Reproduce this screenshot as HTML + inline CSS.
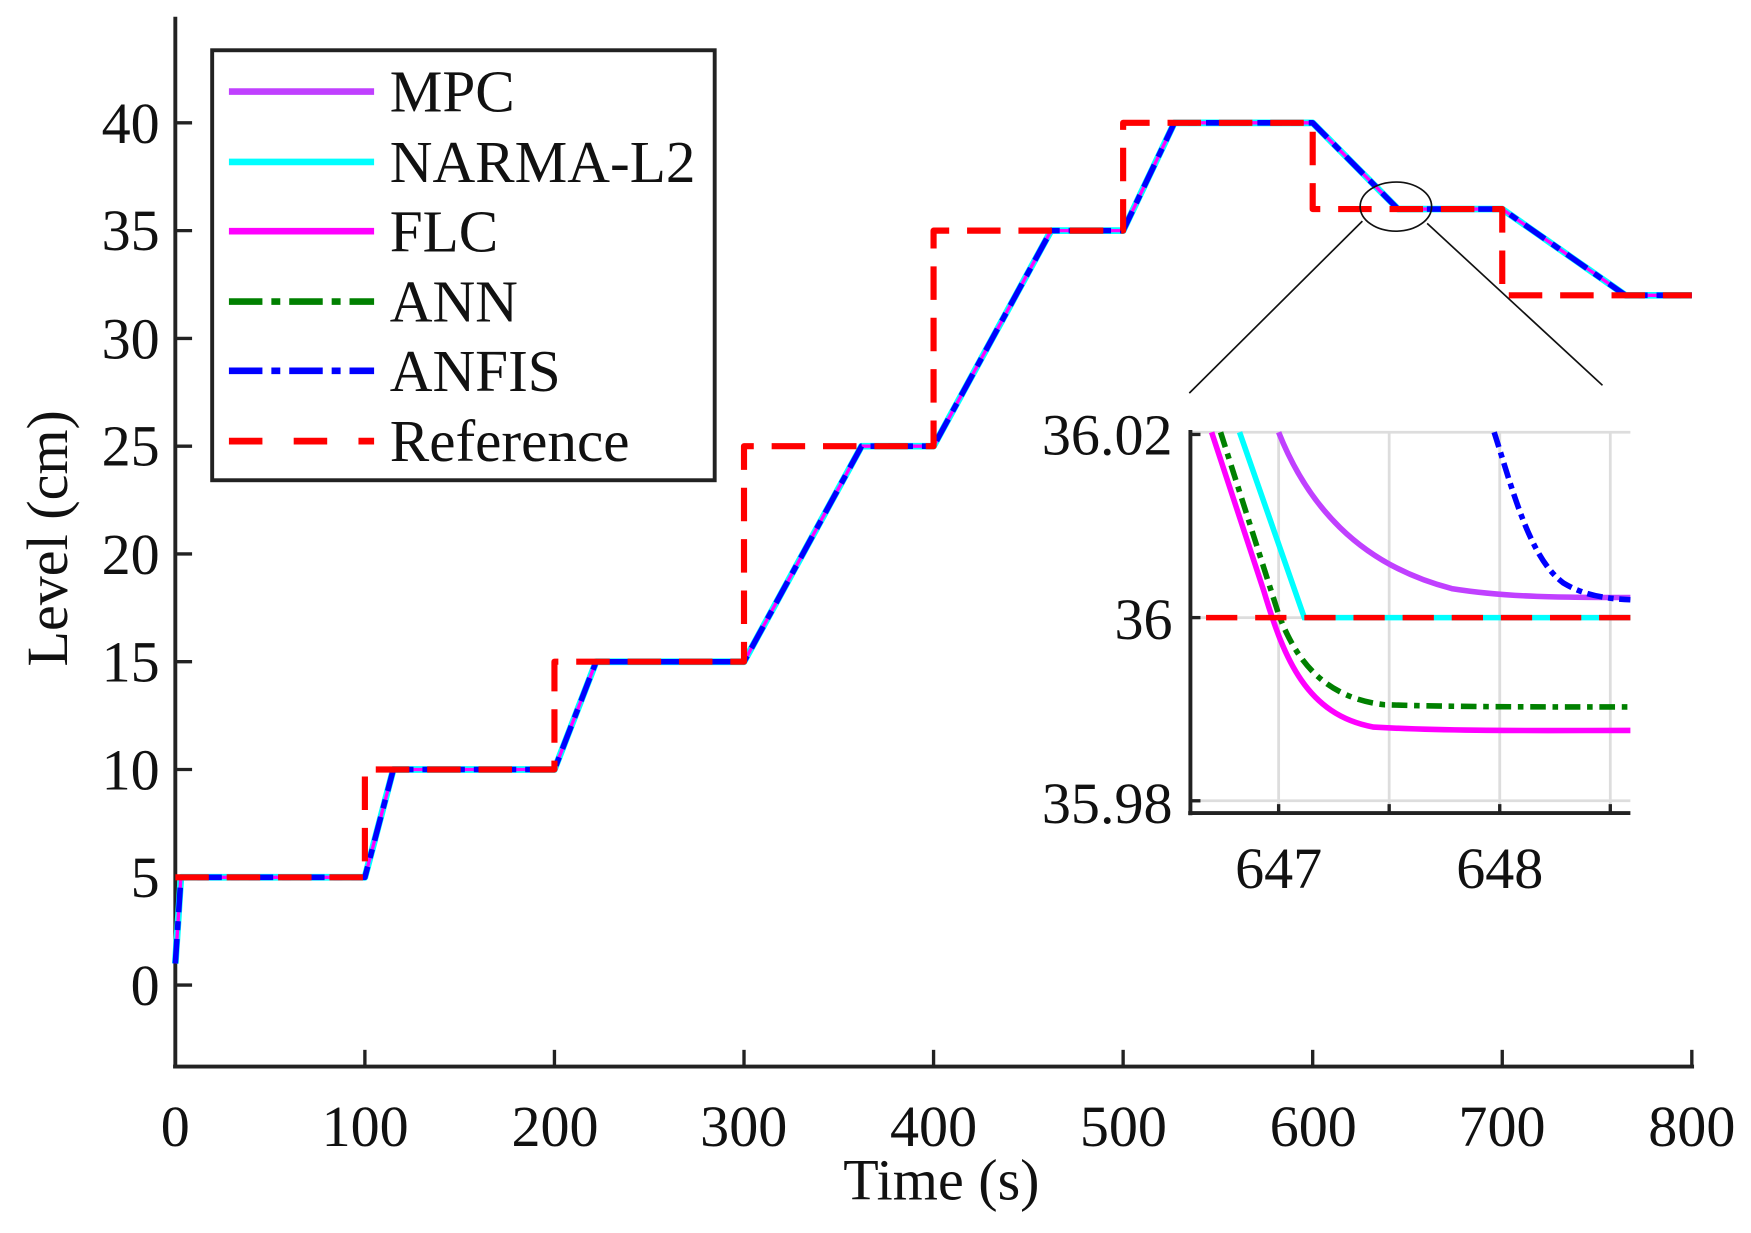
<!DOCTYPE html>
<html><head><meta charset="utf-8"><style>
html,body{margin:0;padding:0;background:#fff;}
svg{display:block;}
text{font-family:"Liberation Serif",serif;fill:#111;}
</style></head><body>
<svg width="1751" height="1233" viewBox="0 0 1568 1104" preserveAspectRatio="none" xmlns="http://www.w3.org/2000/svg">
<rect width="1568" height="1104" fill="#fff"/>
<g stroke="#222" stroke-width="3.5" fill="none">
<line x1="157" y1="15" x2="157" y2="956"/>
<line x1="155" y1="955" x2="1517" y2="955"/>
</g>
<g stroke="#222" stroke-width="3">
<line x1="326.75" y1="955" x2="326.75" y2="940"/><line x1="496.5" y1="955" x2="496.5" y2="940"/>
<line x1="666.25" y1="955" x2="666.25" y2="940"/><line x1="836" y1="955" x2="836" y2="940"/>
<line x1="1005.75" y1="955" x2="1005.75" y2="940"/><line x1="1175.5" y1="955" x2="1175.5" y2="940"/>
<line x1="1345.25" y1="955" x2="1345.25" y2="940"/><line x1="1515" y1="955" x2="1515" y2="940"/>
<line x1="157" y1="882" x2="172" y2="882"/><line x1="157" y1="785.5" x2="172" y2="785.5"/>
<line x1="157" y1="689" x2="172" y2="689"/><line x1="157" y1="592.5" x2="172" y2="592.5"/>
<line x1="157" y1="496" x2="172" y2="496"/><line x1="157" y1="399.5" x2="172" y2="399.5"/>
<line x1="157" y1="303" x2="172" y2="303"/><line x1="157" y1="206.5" x2="172" y2="206.5"/>
<line x1="157" y1="110" x2="172" y2="110"/>
</g>
<g font-size="52" text-anchor="end">
<text x="143" y="900">0</text><text x="143" y="803">5</text><text x="143" y="707">10</text>
<text x="143" y="610">15</text><text x="143" y="514">20</text><text x="143" y="417">25</text>
<text x="143" y="321">30</text><text x="143" y="224">35</text><text x="143" y="128">40</text>
</g>
<g font-size="52" text-anchor="middle">
<text x="157" y="1026">0</text><text x="327" y="1026">100</text><text x="497" y="1026">200</text>
<text x="666" y="1026">300</text><text x="836" y="1026">400</text><text x="1006" y="1026">500</text>
<text x="1176" y="1026">600</text><text x="1345" y="1026">700</text><text x="1515" y="1026">800</text>
<text x="843" y="1074">Time (s)</text>
<text transform="translate(60,482) rotate(-90)" x="0" y="0">Level (cm)</text>
</g>
<g fill="none" stroke-linejoin="round">
<path d="M157 862.7 L162 785.5 L326.75 785.5 L352.2 689 L496.5 689 L533.8 592.5 L666.25 592.5 L771.5 399.5 L836 399.5 L941.2 206.5 L1005.75 206.5 L1051.6 110 L1175.5 110 L1251.9 187.2 L1345.25 187.2 L1455.6 264.4 L1515 264.4" stroke="#00ffff" stroke-width="6"/>
<path d="M157 862.7 L162 785.5 L326.75 785.5 L352.2 689 L496.5 689 L533.8 592.5 L666.25 592.5 L771.5 399.5 L836 399.5 L941.2 206.5 L1005.75 206.5 L1051.6 110 L1175.5 110 L1251.9 187.2 L1345.25 187.2 L1455.6 264.4 L1515 264.4" stroke="#ff00ff" stroke-width="3"/>
<path d="M157 862.7 L162 785.5 L326.75 785.5 L352.2 689 L496.5 689 L533.8 592.5 L666.25 592.5 L771.5 399.5 L836 399.5 L941.2 206.5 L1005.75 206.5 L1051.6 110 L1175.5 110 L1251.9 187.2 L1345.25 187.2 L1455.6 264.4 L1515 264.4" stroke="#0000ff" stroke-width="5" stroke-dasharray="22 8 8 8"/>
<path d="M157 785.5 L326.75 785.5 L326.75 689 L496.5 689 L496.5 592.5 L666.25 592.5 L666.25 399.5 L836 399.5 L836 206.5 L1005.75 206.5 L1005.75 110 L1175.5 110 L1175.5 187.2 L1345.25 187.2 L1345.25 264.4 L1515 264.4" stroke="#ff0000" stroke-width="5.5" stroke-dasharray="30 16"/>
</g>
<ellipse cx="1250" cy="185" rx="32" ry="22" fill="none" stroke="#111" stroke-width="1.5"/>
<line x1="1220" y1="198" x2="1065" y2="352" stroke="#111" stroke-width="1.5"/>
<line x1="1278" y1="200" x2="1435" y2="345" stroke="#111" stroke-width="1.5"/>
<rect x="1066" y="387" width="394" height="341" fill="#fff"/>
<g stroke="#ddd" stroke-width="2.5">
<line x1="1145" y1="387" x2="1145" y2="728"/><line x1="1244" y1="387" x2="1244" y2="728"/>
<line x1="1343" y1="387" x2="1343" y2="728"/><line x1="1442" y1="387" x2="1442" y2="728"/>
<line x1="1066" y1="387" x2="1460" y2="387"/><line x1="1066" y1="553" x2="1460" y2="553"/>
<line x1="1066" y1="717" x2="1460" y2="717"/>
</g>
<g fill="none" stroke-width="5">
<path d="M1145 387 C1170 450 1215 505 1300 527 C1350 535 1400 535 1460 535" stroke="#c040ff"/>
<path d="M1338 387 C1355 440 1370 500 1400 522 C1420 534 1440 536 1460 537" stroke="#0000ff" stroke-dasharray="14 5 5 5"/>
<path d="M1110 387 L1168 553 L1460 553" stroke="#00ffff"/>
<path d="M1085 387 L1132 530 C1150 590 1170 640 1230 651 C1300 655 1380 654 1460 654" stroke="#ff00ff"/>
<path d="M1093 387 L1145 550 C1160 590 1185 625 1240 631 C1300 633 1380 633 1460 633" stroke="#008000" stroke-dasharray="14 6 5 6"/>
<line x1="1080" y1="553" x2="1460" y2="553" stroke="#ff0000" stroke-dasharray="28 16"/>
</g>
<g stroke="#222" stroke-width="3.5" fill="none">
<line x1="1066" y1="385" x2="1066" y2="730"/>
<line x1="1064" y1="728" x2="1460" y2="728"/>
</g>
<g stroke="#222" stroke-width="3">
<line x1="1066" y1="389" x2="1075" y2="389"/><line x1="1066" y1="553" x2="1075" y2="553"/><line x1="1066" y1="717" x2="1075" y2="717"/>
<line x1="1145" y1="728" x2="1145" y2="720"/><line x1="1244" y1="728" x2="1244" y2="720"/><line x1="1343" y1="728" x2="1343" y2="720"/><line x1="1442" y1="728" x2="1442" y2="720"/>
</g>
<g font-size="52">
<text x="1050" y="407" text-anchor="end">36.02</text>
<text x="1050" y="572" text-anchor="end">36</text>
<text x="1050" y="737" text-anchor="end">35.98</text>
<text x="1145" y="795" text-anchor="middle">647</text>
<text x="1343" y="795" text-anchor="middle">648</text>
</g>
<rect x="190" y="45" width="450" height="385" fill="#fff" stroke="#222" stroke-width="3.5"/>
<g stroke-width="6">
<line x1="205" y1="82" x2="335" y2="82" stroke="#c040ff"/>
<line x1="205" y1="145" x2="335" y2="145" stroke="#00ffff"/>
<line x1="205" y1="207" x2="335" y2="207" stroke="#ff00ff"/>
<line x1="205" y1="270" x2="335" y2="270" stroke="#008000" stroke-dasharray="30 8 8 8"/>
<line x1="205" y1="332" x2="335" y2="332" stroke="#0000ff" stroke-dasharray="30 8 8 8"/>
<line x1="205" y1="395" x2="335" y2="395" stroke="#ff0000" stroke-dasharray="30 28"/>
</g>
<g font-size="53">
<text x="349" y="100">MPC</text>
<text x="349" y="163">NARMA-L2</text>
<text x="349" y="225">FLC</text>
<text x="349" y="288">ANN</text>
<text x="349" y="350">ANFIS</text>
<text x="349" y="413">Reference</text>
</g>
</svg>
</body></html>
